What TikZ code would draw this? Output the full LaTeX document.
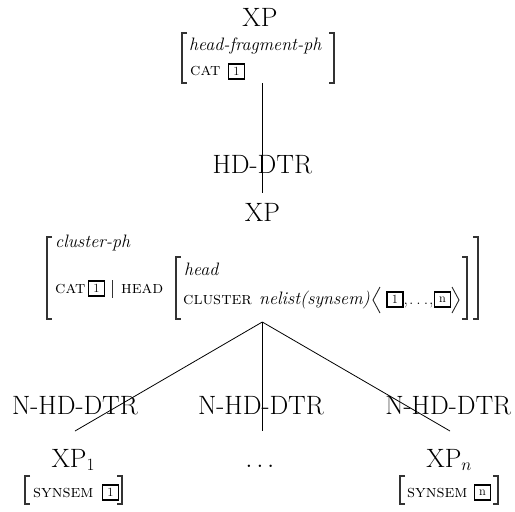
\documentclass[tikz,border=0pt]{standalone}
\tikzset{
  lab/.style={font=\fontsize{26.5}{30}\selectfont, inner sep=0pt, anchor=base},
  avm/.style={font=\fontsize{17.5}{20}\selectfont, inner sep=0pt, anchor=base west},
  avmi/.style={font=\fontsize{18}{20}\selectfont\itshape, inner sep=0pt, anchor=base west},
  tag/.style={draw, line width=1.6pt, inner sep=0pt, minimum width=16pt, minimum height=15pt, font=\fontsize{12.5}{13}\selectfont},
  brk/.style={line width=1.2pt, black!80},
  edge/.style={line width=0.8pt},
  ang/.style={line width=0.9pt, black!85},
}
\newcommand\lbk[3]{\draw[brk] ({#1+5},#2) -- (#1,#2) -- (#1,#3) -- ({#1+5},#3);}
\newcommand\rbk[3]{\draw[brk] ({#1-5},#2) -- (#1,#2) -- (#1,#3) -- ({#1-5},#3);}
\begin{document}
\begin{tikzpicture}[x=1pt,y=-1pt]
\useasboundingbox (0,0) rectangle (515,512);
% top
\node[lab] (xp0) at (260,26) {XP};
\node[avmi] (t1) at (189,50) {head-fragment-ph};
\node[avm] (t2) at (190,75) {\textsc{cat}};
\node[tag] (t3) at (236.5,71.5) {1};
\lbk{182}{33}{83}
\rbk{334}{33}{83}
\coordinate (top1) at (262.3,83);
\coordinate (top2) at (262.3,193);
\draw[edge] (top1) -- (top2);
\node[lab] (hd) at (262.3,173.3) {HD-DTR};
\node[lab] (xp) at (262.5,221.5) {XP};
% cluster avm
\node[avmi] (c1) at (55,247) {cluster-ph};
\node[avm] (c2) at (55,293) {\textsc{cat}};
\node[tag] (c3) at (96.5,288.5) {1};
\coordinate (bar1) at (112,280);
\coordinate (bar2) at (112,298);
\draw[line width=0.8pt, black!80] (bar1) -- (bar2);
\node[avm] (c4) at (121,293) {\textsc{head}};
\node[avmi] (c5) at (184,275) {head};
\node[avm] (c6) at (183,304) {\textsc{cluster}};
\node[avmi] (c7) at (259,304) {nelist(synsem)};
\draw[ang] (380,287) -- (373,300) -- (380,313);
\node[tag] (c8) at (395,299.5) {1};
\node[avm] (c9) at (403.5,304) {,\kern1pt.\kern3pt.\kern3pt.\kern1pt,};
\node[tag] (c10) at (442.5,299.5) {n};
\draw[ang] (452,287) -- (459,300) -- (452,313);
\lbk{176}{257}{319}
\rbk{467}{257}{319}
\lbk{47}{237}{319}
\rbk{478}{237}{319}
% tree
\coordinate (apex) at (262.3,322);
\coordinate (e1) at (75,431);
\coordinate (e2) at (262.3,431);
\coordinate (e3) at (450,431);
\draw[edge] (apex) -- (e1);
\draw[edge] (apex) -- (e2);
\draw[edge] (apex) -- (e3);
\node[lab] (n1) at (75,414) {N-HD-DTR};
\node[lab] (n2) at (261,414) {N-HD-DTR};
\node[lab] (n3) at (448.3,414) {N-HD-DTR};
\node[lab] (x1) at (73.3,467) {XP$_1$};
\node[lab] (x2) at (260,467) {$\ldots$};
\node[lab] (x3) at (449.2,467) {XP$_n$};
% bottom avms
\node[avm] (s1) at (33,497) {\textsc{synsem}};
\node[tag] (s2) at (110.5,492.5) {1};
\lbk{25}{476}{504}
\rbk{122}{476}{504}
\node[avm] (s3) at (407,497) {\textsc{synsem}};
\node[tag] (s4) at (482.5,492.5) {n};
\lbk{400}{476}{504}
\rbk{498}{476}{504}
\end{tikzpicture}
\end{document}
